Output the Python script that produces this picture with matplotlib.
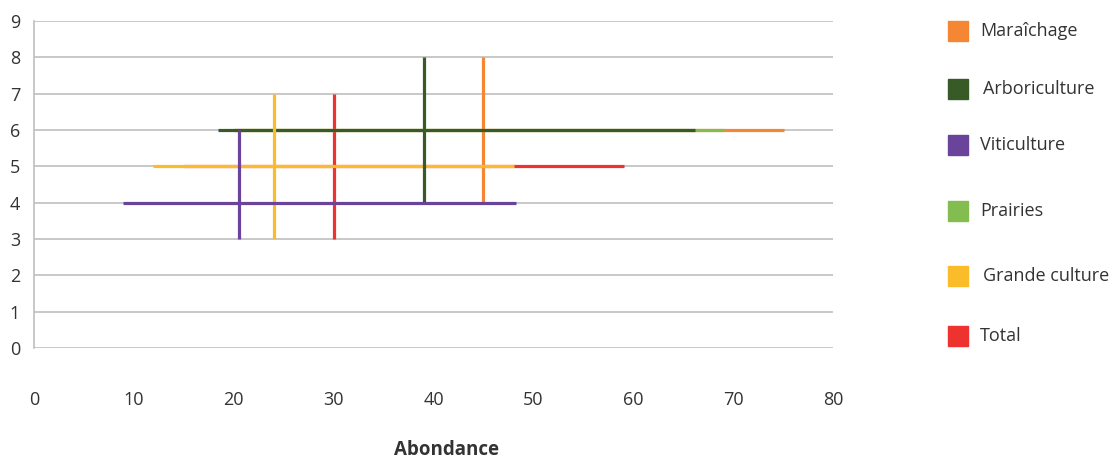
import matplotlib
matplotlib.use("Agg")
import matplotlib.pyplot as plt
from matplotlib.patches import Rectangle

plt.rcParams['font.family'] = ['Open Sans', 'DejaVu Sans']

# categories, in legend order
categories = ["Maraîchage", "Arboriculture", "Viticulture", "Prairies", "Grande culture", "Total"]
colors = ["#f58634", "#375a27", "#6a449b", "#84bd4f", "#fbbc2a", "#ee3230"]

# horizontal range (abondance min / max) drawn at level y
h_min = [20.0, 18.4, 8.9, 20.0, 11.9, 15.0]
h_max = [75.1, 66.2, 48.3, 69.1, 48.1, 59.1]
h_level = [6, 6, 4, 6, 5, 5]

# vertical range drawn at abondance x (None = not drawn)
v_x = [45.0, 39.0, 20.5, None, 24.0, 30.0]
v_min = [4, 4, 3, None, 3, 3]
v_max = [8, 8, 6, None, 7, 7]

zorders = [3, 5, 6, 4, 5, 2]

# legend positions (figure pixels from top)
legend_y = [31, 89, 145, 211, 276, 336]
legend_dx = [0, 3, 0, 0, 3, 0]

W, H = 1114, 458
fig = plt.figure(figsize=(W / 100, H / 100), dpi=100)
ax = fig.add_axes([34 / W, 1 - 348 / H, (833 - 34) / W, (348 - 21) / H])

for i, cat in enumerate(categories):
    ax.plot([h_min[i], h_max[i]], [h_level[i], h_level[i]], color=colors[i],
            lw=2.3, solid_capstyle='butt', zorder=zorders[i])
    if v_x[i] is not None:
        ax.plot([v_x[i], v_x[i]], [v_min[i], v_max[i]], color=colors[i],
                lw=2.3, solid_capstyle='butt', zorder=zorders[i] + 0.5)

ax.set_xlim(0, 80)
ax.set_ylim(0, 9)
ax.set_xticks(range(0, 81, 10))
ax.set_yticks(range(0, 10))
ax.yaxis.grid(True, color="#bfbfbf", lw=1.2)
ax.set_axisbelow(True)
for s in ["top", "right", "bottom"]:
    ax.spines[s].set_visible(False)
ax.spines["left"].set_color("#bfbfbf")
ax.spines["left"].set_linewidth(1.2)
ax.tick_params(axis='x', length=0, pad=31, labelsize=13, colors="#333333")
ax.tick_params(axis='y', length=0, pad=10, labelsize=13, colors="#333333")

fig.text(446 / W, 1 - 450 / H, "Abondance", ha='center', va='center',
         fontsize=13.5, fontweight='bold', color="#333333")

for i, cat in enumerate(categories):
    yc = legend_y[i]
    fig.patches.append(Rectangle((948 / W, 1 - (yc + 10) / H), 20 / W, 20 / H,
                                 transform=fig.transFigure, color=colors[i]))
    fig.text((980 + legend_dx[i]) / W, 1 - yc / H, cat, ha='left', va='center',
             fontsize=13, color="#333333")

fig.savefig("out.png", dpi=100)
